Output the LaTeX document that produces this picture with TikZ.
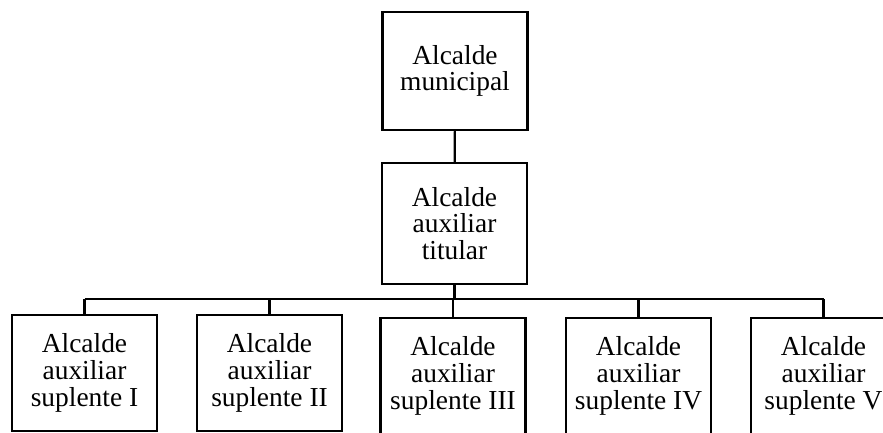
\documentclass[tikz,border=0pt]{standalone}
\usepackage{fontspec}
\setmainfont{Liberation Serif}
\usepackage{tikz}
\tikzset{office/.style={
    draw, line width=1.5pt, align=center, inner sep=0pt,
    minimum width=3.625cm, font=\fontsize{19.5}{19}\selectfont
  },
  link/.style={line width=1.5pt}
}

\begin{document}
\begin{tikzpicture}[x=0.025cm,y=-0.025cm]
    \useasboundingbox (0,0) rectangle (883,433);

    \node[office, minimum height=2.95cm] (municipal) at (455,71) {Alcalde\\municipal};
    \node[office, minimum height=3.025cm] (titular) at (454.5,223.5) {Alcalde\\auxiliar\\titular};

    \foreach \i/\x/\y/\r in {1/84.5/373/I, 2/269.5/373/II, 3/453/376/III, 4/638.5/376/IV, 5/823.5/376/V}
      \node[office, minimum height=2.9cm] (sup\i) at (\x,\y) {Alcalde\\auxiliar\\suplente \r};

    \coordinate (bus) at (454.5,299);
    \draw[link] (municipal) -- (titular);
    \draw[link] (titular) -- (bus);
    \draw[link] (sup1.north |- bus) -- (sup5.north |- bus);
    \foreach \i in {1,...,5}
      \draw[link] (sup\i.north) -- (sup\i.north |- bus);
  \end{tikzpicture}
\end{document}
